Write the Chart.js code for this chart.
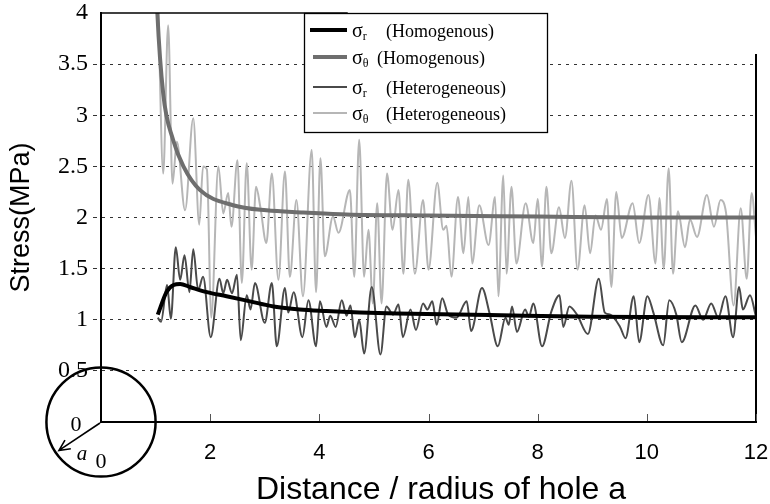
<!DOCTYPE html>
<html>
<head>
<meta charset="utf-8">
<script src="https://cdn.jsdelivr.net/npm/chart.js@4.4.1/dist/chart.umd.min.js"></script>
<style>
  html, body { margin: 0; padding: 0; background: #fff; }
</style>
</head>
<body>
<canvas id="stressChart" width="770" height="504"></canvas>
<script>
// distance r/a and stress (MPa) for each curve
const sigmaRHomX = [1.04, 1.2, 1.33, 1.45, 1.63, 1.94, 2.3, 2.73, 3.16, 3.64, 4.13, 4.74, 5.42, 7.12, 8.96, 12];
const sigmaRHomY = [1.05, 1.27, 1.34, 1.35, 1.32, 1.27, 1.23, 1.18, 1.13, 1.1, 1.085, 1.07, 1.06, 1.046, 1.03, 1.024];

const sigmaThetaHomX = [1.0, 1.03, 1.14, 1.32, 1.51, 1.81, 2.42, 3.03, 3.71, 4.5, 6, 8, 10, 12];
const sigmaThetaHomY = [4.5, 4.03, 3.21, 2.76, 2.5, 2.27, 2.12, 2.07, 2.05, 2.03, 2.02, 2.01, 2.0, 2.0];

const sigmaRHetX = [1.04, 1.1, 1.21, 1.28, 1.37, 1.45, 1.53, 1.62, 1.69, 1.78, 1.87, 2.01, 2.17, 2.24, 2.31, 2.4, 2.49, 2.56,
  2.67, 2.74, 2.82, 3.0, 3.13, 3.22, 3.37, 3.43, 3.53, 3.69, 3.8, 3.94, 4.01, 4.13, 4.2, 4.3, 4.41, 4.5, 4.57, 4.65,
  4.73, 4.82, 4.96, 5.12, 5.23, 5.35, 5.45, 5.53, 5.67, 5.77, 5.9, 5.98, 6.07, 6.15, 6.25, 6.36, 6.51, 6.7, 6.78,
  6.98, 7.12, 7.27, 7.41, 7.47, 7.53, 7.62, 7.77, 7.84, 7.92, 8.08, 8.25, 8.4, 8.47, 8.58, 8.72, 8.92, 9.12, 9.23,
  9.33, 9.51, 9.61, 9.76, 9.86, 10.01, 10.12, 10.3, 10.41, 10.54, 10.64, 10.89, 11.03, 11.18, 11.31, 11.44, 11.58,
  11.69, 11.76, 11.89, 12.0];
const sigmaRHetY = [1.02, 0.98, 1.34, 1.01, 1.71, 1.39, 1.63, 1.27, 1.69, 1.29, 1.42, 0.83, 1.4, 1.26, 1.39, 1.26, 1.44, 0.8,
  1.24, 1.1, 1.36, 0.97, 1.36, 0.74, 1.31, 1.07, 1.27, 0.83, 1.19, 0.74, 1.18, 0.93, 1.04, 0.93, 1.19, 1.04, 1.14, 0.83,
  1.0, 0.67, 1.32, 0.66, 1.13, 1.05, 1.15, 0.83, 1.1, 0.9, 1.16, 1.1, 1.18, 0.95, 1.21, 1.05, 1.02, 1.18, 0.89,
  1.31, 1.06, 0.74, 1.02, 0.95, 1.13, 0.88, 1.1, 1.03, 1.16, 0.74, 1.08, 1.24, 0.93, 1.13, 1.05, 0.86, 1.4, 1.07,
  1.05, 0.93, 0.82, 1.23, 0.78, 1.23, 1.07, 0.75, 1.19, 1.05, 0.78, 1.14, 1.0, 1.16, 1.02, 1.23, 0.83,
  1.32, 1.1, 1.24, 1.03];

const sigmaThetaHetX = [1.0, 1.05, 1.14, 1.23, 1.31, 1.39, 1.54, 1.69, 1.8, 1.87, 1.94, 2.02, 2.15, 2.24, 2.33, 2.39, 2.5,
  2.58, 2.67, 2.76, 2.84, 2.92, 3.03, 3.13, 3.25, 3.37, 3.46, 3.58, 3.7, 3.86, 3.94, 4.02, 4.1, 4.25, 4.35, 4.56,
  4.64, 4.73, 4.82, 4.9, 4.98, 5.06, 5.14, 5.24, 5.34, 5.45, 5.54, 5.63, 5.75, 5.9, 6.0, 6.16, 6.27, 6.33, 6.42,
  6.54, 6.64, 6.73, 6.8, 6.93, 7.1, 7.22, 7.28, 7.37, 7.43, 7.52, 7.61, 7.78, 7.92, 8.0, 8.08, 8.16, 8.25, 8.39,
  8.5, 8.62, 8.73, 8.86, 8.96, 9.06, 9.16, 9.27, 9.35, 9.44, 9.54, 9.74, 9.86, 10.03, 10.16, 10.23, 10.31, 10.4,
  10.48, 10.57, 10.7, 10.79, 10.92, 11.1, 11.23, 11.35, 11.45, 11.59, 11.72, 11.83, 11.92, 12.0];
const sigmaThetaHetY = [4.8, 4.0, 2.43, 3.88, 2.33, 2.74, 2.07, 2.97, 1.93, 2.5, 2.47, 1.02, 2.5, 2.04, 2.24, 1.91, 2.56,
  1.36, 2.53, 1.49, 2.3, 2.1, 1.75, 2.43, 1.39, 2.45, 1.42, 2.17, 1.23, 2.66, 1.27, 2.58, 1.62, 2.01, 1.85, 2.27,
  1.42, 2.76, 1.42, 1.88, 1.16, 2.14, 1.16, 2.43, 1.88, 2.27, 1.45, 2.37, 1.45, 2.17, 1.49, 2.34, 1.88, 1.92, 1.42,
  2.2, 1.65, 2.2, 1.55, 2.12, 1.73, 2.2, 1.23, 2.41, 1.45, 2.3, 1.55, 2.14, 1.75, 2.18, 1.52, 2.3, 1.65, 2.1,
  1.8, 2.36, 1.49, 2.12, 1.65, 2.02, 1.88, 2.18, 1.32, 2.25, 1.8, 2.14, 1.75, 2.22, 1.55, 2.19, 1.5, 2.48,
  1.45, 2.06, 1.71, 1.98, 1.81, 2.22, 1.91, 2.17, 2.05, 1.14, 2.09, 1.4, 2.24, 1.81];

const xTickValues = [2, 4, 6, 8, 10, 12];
const yTickValues = [0.5, 1, 1.5, 2, 2.5, 3, 3.5, 4];

const legendSubs = ["r", "θ", "r", "θ"];
const legendNames = ["(Homogenous)", "(Homogenous)", "(Heterogeneous)", "(Heterogeneous)"];
const lineColors = ["#000000", "#6e6e6e", "#4a4a4a", "#b6b6b6"];
const lineWidths = [4, 4, 2, 2];

const xTitle = "Distance / radius of hole a";
const yTitle = "Stress(MPa)";

const serif = "'Liberation Serif', 'Times New Roman', serif";
const sans = "'Liberation Sans', Arial, sans-serif";

function toPoints(xs, ys) {
  return xs.map((x, i) => ({ x: x, y: ys[i] }));
}

// frame pieces, inward x ticks, x title, the hole sketch and the legend box
const notesPlugin = {
  id: "notes",
  afterDraw(chart) {
    const ctx = chart.ctx;
    const xs = chart.scales.x;
    const ys = chart.scales.y;
    const x0 = xs.getPixelForValue(0);
    const y0 = ys.getPixelForValue(0);
    const top = ys.getPixelForValue(4);
    const right = xs.getPixelForValue(12);

    ctx.save();
    ctx.strokeStyle = "#000";
    ctx.lineWidth = 1.5;
    ctx.beginPath();
    ctx.moveTo(x0, top);
    ctx.lineTo(xs.getPixelForValue(4.52), top);
    ctx.stroke();

    ctx.lineWidth = 2;
    ctx.beginPath();
    ctx.moveTo(right, ys.getPixelForValue(3.6));
    ctx.lineTo(right, y0);
    ctx.stroke();

    ctx.strokeStyle = "#555";
    ctx.lineWidth = 1;
    xTickValues.forEach(v => {
      const px = Math.round(xs.getPixelForValue(v)) + 0.5;
      ctx.beginPath();
      ctx.moveTo(px, y0 - 1);
      ctx.lineTo(px, y0 - 8);
      ctx.stroke();
    });

    ctx.fillStyle = "#000";
    ctx.textAlign = "center";
    ctx.textBaseline = "alphabetic";
    ctx.font = "32px " + sans;
    ctx.fillText(xTitle, 441, 499);

    // hole of radius a centred at the origin
    const r = xs.getPixelForValue(1) - x0;
    ctx.strokeStyle = "#000";
    ctx.lineWidth = 2.5;
    ctx.beginPath();
    ctx.arc(x0, y0, r, 0, Math.PI * 2);
    ctx.stroke();

    const ang = Math.atan2(28.4, -42);
    const tipX = x0 + Math.cos(ang) * r * 0.93;
    const tipY = y0 + Math.sin(ang) * r * 0.93;
    ctx.lineWidth = 1.6;
    ctx.beginPath();
    ctx.moveTo(x0 - 1, y0 + 1);
    ctx.lineTo(tipX, tipY);
    ctx.moveTo(tipX + Math.cos(ang + 0.45 - Math.PI) * 12, tipY + Math.sin(ang + 0.45 - Math.PI) * 12);
    ctx.lineTo(tipX, tipY);
    ctx.lineTo(tipX + Math.cos(ang - 0.45 - Math.PI) * 12, tipY + Math.sin(ang - 0.45 - Math.PI) * 12);
    ctx.stroke();

    ctx.textBaseline = "middle";
    ctx.font = "22px " + serif;
    ctx.fillText("0", x0 - 25, y0 + 3);
    ctx.fillText("0", x0, y0 + 40);
    ctx.font = "italic 21px " + serif;
    ctx.fillText("a", x0 - 19, y0 + 32);

    // legend
    const bx = 304, by = 13, bw = 243, bh = 119;
    ctx.fillStyle = "#fff";
    ctx.fillRect(bx, by, bw, bh);
    ctx.strokeStyle = "#000";
    ctx.lineWidth = 1.3;
    ctx.strokeRect(bx + 0.5, by + 0.5, bw, bh);

    const rowY = [30, 57, 87, 113];
    const nameX = [386, 377, 386, 386];
    ctx.textAlign = "left";
    ctx.textBaseline = "alphabetic";
    rowY.forEach((ry, i) => {
      ctx.strokeStyle = lineColors[i];
      ctx.lineWidth = lineWidths[i];
      ctx.beginPath();
      ctx.moveTo(i === 0 ? 310 : 313, ry);
      ctx.lineTo(347, ry);
      ctx.stroke();

      const base = ry + 7;
      ctx.fillStyle = "#000";
      ctx.font = "20px " + serif;
      ctx.fillText("σ", 352, base);
      const w = ctx.measureText("σ").width;
      ctx.font = "12px " + serif;
      ctx.fillText(legendSubs[i], 352 + w, base + 3);
      ctx.font = "18px " + serif;
      ctx.fillText(legendNames[i], nameX[i], base);
    });
    ctx.restore();
  }
};

const ctx = document.getElementById("stressChart").getContext("2d");
const hiddenGrid = c => (c.tick && c.tick.value === 4) ? "rgba(0,0,0,0)" : "#333";

new Chart(ctx, {
  type: "line",
  data: {
    datasets: [
      { label: "σr (Homogenous)", data: toPoints(sigmaRHomX, sigmaRHomY), borderColor: lineColors[0], borderWidth: lineWidths[0], order: 0 },
      { label: "σθ (Homogenous)", data: toPoints(sigmaThetaHomX, sigmaThetaHomY), borderColor: lineColors[1], borderWidth: lineWidths[1], order: 1 },
      { label: "σr (Heterogeneous)", data: toPoints(sigmaRHetX, sigmaRHetY), borderColor: lineColors[2], borderWidth: lineWidths[2], order: 2 },
      { label: "σθ (Heterogeneous)", data: toPoints(sigmaThetaHetX, sigmaThetaHetY), borderColor: lineColors[3], borderWidth: lineWidths[3], order: 3 }
    ]
  },
  options: {
    responsive: false,
    animation: false,
    layout: { autoPadding: false, padding: { left: 0, top: 13, right: 14, bottom: 0 } },
    elements: {
      point: { radius: 0 },
      line: { cubicInterpolationMode: "monotone", fill: false }
    },
    plugins: { legend: { display: false }, tooltip: { enabled: false } },
    scales: {
      x: {
        type: "linear",
        min: 0,
        max: 12,
        afterBuildTicks: s => { s.ticks = xTickValues.map(v => ({ value: v })); },
        afterFit: s => {
          s.height = 82;
          s.paddingLeft = 0;
          s.paddingRight = 0;
        },
        grid: { display: false, drawTicks: false },
        border: { display: true, color: "#000", width: 2 },
        ticks: { color: "#000", padding: 18, font: { family: sans, size: 22 } }
      },
      y: {
        type: "linear",
        min: 0,
        max: 4,
        afterBuildTicks: s => { s.ticks = yTickValues.map(v => ({ value: v })); },
        afterFit: s => {
          s.width = 101;
          s.paddingTop = 0;
          s.paddingBottom = 0;
        },
        grid: {
          color: hiddenGrid,
          tickColor: hiddenGrid,
          lineWidth: 1,
          tickBorderDash: [4, 6],
          tickLength: 8
        },
        border: { display: true, color: "#000", width: 2, dash: [3, 5] },
        ticks: {
          color: "#000",
          padding: 5,
          font: { family: serif, size: 24 },
          callback: v => String(v)
        },
        title: {
          display: true,
          text: yTitle,
          color: "#000",
          padding: { top: 5, bottom: 0 },
          font: { family: sans, size: 27 }
        }
      }
    }
  },
  plugins: [notesPlugin]
});
</script>
</body>
</html>
